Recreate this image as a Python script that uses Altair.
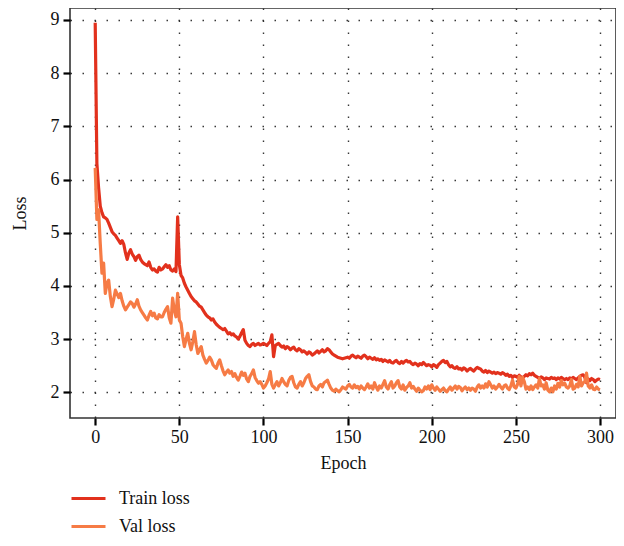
import altair as alt
import pandas as pd

train_loss = [
    8.95, 6.30, 5.85, 5.50, 5.38, 5.30, 5.28, 5.25, 5.18, 5.10,
    5.02, 4.98, 4.95, 4.90, 4.85, 4.80, 4.85, 4.78, 4.62, 4.50,
    4.62, 4.68, 4.60, 4.55, 4.48, 4.55, 4.58, 4.50, 4.45, 4.42,
    4.40, 4.38, 4.45, 4.35, 4.30, 4.32, 4.28, 4.26, 4.35, 4.30,
    4.32, 4.36, 4.40, 4.35, 4.38, 4.30, 4.28, 4.32, 4.27, 5.30,
    4.40, 4.20, 4.15, 4.05, 3.98, 3.92, 3.86, 3.80, 3.76, 3.72,
    3.70, 3.66, 3.62, 3.60, 3.55, 3.50, 3.45, 3.42, 3.40, 3.36,
    3.38, 3.32, 3.28, 3.25, 3.22, 3.20, 3.18, 3.20, 3.15, 3.10,
    3.12, 3.08, 3.10, 3.06, 3.04, 3.00, 3.05, 3.12, 3.18, 2.98,
    2.92, 2.88, 2.86, 2.90, 2.92, 2.88, 2.90, 2.92, 2.89, 2.90,
    2.92, 2.90, 2.88, 2.92, 2.95, 3.08, 2.67, 2.88, 2.90, 2.92,
    2.88, 2.85, 2.87, 2.82, 2.86, 2.84, 2.80, 2.83, 2.85, 2.80,
    2.78, 2.82, 2.80, 2.76, 2.78, 2.75, 2.72, 2.76, 2.74, 2.70,
    2.72, 2.75, 2.78, 2.74, 2.77, 2.80, 2.76, 2.78, 2.82, 2.80,
    2.76, 2.72, 2.70, 2.68, 2.66, 2.65, 2.64, 2.63, 2.64, 2.65,
    2.66, 2.64, 2.68, 2.70, 2.67, 2.65, 2.68, 2.66, 2.64, 2.68,
    2.70, 2.67, 2.63, 2.66, 2.64, 2.62, 2.65, 2.61, 2.63, 2.60,
    2.62, 2.58, 2.61, 2.59, 2.57, 2.60, 2.56, 2.55, 2.58, 2.60,
    2.56, 2.54, 2.58, 2.55, 2.58, 2.60, 2.57, 2.58, 2.54, 2.52,
    2.55, 2.53, 2.50, 2.54, 2.52, 2.56, 2.53, 2.50, 2.52, 2.51,
    2.48, 2.52, 2.50, 2.47, 2.52, 2.55, 2.58, 2.60, 2.56, 2.58,
    2.52, 2.48, 2.50, 2.46, 2.45, 2.48, 2.44, 2.45, 2.42, 2.46,
    2.44, 2.40, 2.43, 2.45, 2.42, 2.40, 2.44, 2.47, 2.45, 2.44,
    2.40, 2.38, 2.41, 2.37, 2.40, 2.38, 2.36, 2.38, 2.35, 2.37,
    2.36, 2.34, 2.37, 2.35, 2.32, 2.34, 2.30, 2.32, 2.28, 2.31,
    2.30, 2.28, 2.32, 2.29, 2.27, 2.30, 2.33, 2.31, 2.35, 2.33,
    2.36, 2.32, 2.30, 2.28, 2.26, 2.29, 2.27, 2.24, 2.27, 2.26,
    2.25, 2.28, 2.26, 2.27, 2.24, 2.27, 2.25, 2.28, 2.26, 2.24,
    2.26, 2.24, 2.27, 2.25, 2.28, 2.26, 2.24, 2.27, 2.30, 2.32,
    2.33, 2.28, 2.18, 2.25, 2.22, 2.26, 2.24, 2.20, 2.23, 2.25,
    2.24,
]

val_loss = [
    6.22, 5.25, 5.43, 4.80, 4.24, 4.43, 3.86, 4.05, 4.11, 3.80,
    3.61, 3.75, 3.92, 3.85, 3.78, 3.86, 3.72, 3.62, 3.55, 3.60,
    3.65, 3.70, 3.67, 3.60, 3.66, 3.74, 3.62, 3.55, 3.50, 3.45,
    3.40, 3.36, 3.45, 3.52, 3.44, 3.49, 3.40, 3.38, 3.46, 3.42,
    3.42, 3.50, 3.56, 3.61, 3.40, 3.30, 3.77, 3.55, 3.42, 3.86,
    3.36, 3.30, 3.05, 2.86, 3.00, 3.11, 2.92, 2.80, 2.95, 3.14,
    2.90, 2.73, 2.80, 2.86, 2.70, 2.62, 2.55, 2.60, 2.66, 2.61,
    2.52, 2.48, 2.45, 2.55, 2.61, 2.50, 2.40, 2.33, 2.38, 2.42,
    2.36, 2.39, 2.30, 2.35, 2.28, 2.23, 2.30, 2.38, 2.32, 2.36,
    2.25, 2.20, 2.30, 2.35, 2.42, 2.28, 2.22, 2.17, 2.20, 2.15,
    2.08, 2.12, 2.18, 2.25, 2.39, 2.15, 2.08, 2.14, 2.20, 2.12,
    2.18, 2.26, 2.20, 2.15, 2.12, 2.22, 2.28, 2.30, 2.18, 2.10,
    2.08, 2.15, 2.20, 2.12, 2.18, 2.26, 2.30, 2.33, 2.20, 2.12,
    2.10, 2.06, 2.05, 2.12, 2.15, 2.10, 2.18, 2.20, 2.23, 2.15,
    2.08, 2.04, 2.02, 2.06, 2.03, 2.01, 2.05, 2.10, 2.08, 2.06,
    2.12, 2.15, 2.10, 2.08, 2.14, 2.09, 2.11, 2.06, 2.12, 2.08,
    2.05, 2.10, 2.16, 2.08, 2.12, 2.06, 2.18, 2.10, 2.04, 2.12,
    2.08, 2.15, 2.22, 2.10, 2.06, 2.14, 2.20, 2.08, 2.12, 2.18,
    2.22, 2.10, 2.06, 2.14, 2.04, 2.09, 2.12, 2.18, 2.08, 2.11,
    2.06, 2.02, 2.08, 2.04, 2.01, 2.03, 2.10, 2.06, 2.12, 2.05,
    2.14, 2.08, 2.04, 2.10, 2.06, 2.02, 2.05, 2.08, 2.03, 2.01,
    2.06, 2.10, 2.04, 2.08, 2.12, 2.06, 2.11, 2.09, 2.03, 2.07,
    2.10, 2.05, 2.08, 2.04, 2.08, 2.06, 2.02, 2.10, 2.14, 2.08,
    2.12, 2.08, 2.16, 2.10, 2.20, 2.14, 2.08, 2.12, 2.06, 2.10,
    2.15, 2.10, 2.06, 2.12, 2.14, 2.08, 2.05, 2.12, 2.23, 2.10,
    2.08, 2.15, 2.30, 2.12, 2.28, 2.20, 2.06, 2.10, 2.05, 2.12,
    2.05, 2.10, 2.14, 2.08, 2.26, 2.12, 2.14, 2.06, 2.18, 2.04,
    2.01, 2.08, 2.01, 2.12, 2.06, 2.17, 2.10, 2.22, 2.14, 2.17,
    2.10, 2.08, 2.12, 2.24, 2.06, 2.08, 2.15, 2.10, 2.30, 2.12,
    2.18, 2.20, 2.36, 2.12, 2.08, 2.14, 2.06, 2.05, 2.10, 2.06,
    2.05,
]

series_names = ["Train loss", "Val loss"]
series_colors = ["#e2311d", "#f67b45"]
x_ticks = [0, 50, 100, 150, 200, 250, 300]
y_ticks = [2, 3, 4, 5, 6, 7, 8, 9]

rows = []
for name, vals in zip(series_names, [train_loss, val_loss]):
    for i, v in enumerate(vals):
        rows.append({"Epoch": i, "Loss": v, "Series": name, "order": series_names.index(name)})
df = pd.DataFrame(rows)

FONT = "Liberation Serif"

chart = alt.Chart(df).mark_line(strokeWidth=3.2, strokeJoin="round").encode(
    x=alt.X("Epoch:Q",
            scale=alt.Scale(domain=[-14.98, 309.5], nice=False, zero=False),
            axis=alt.Axis(values=x_ticks, title="Epoch", titlePadding=8, labelPadding=3)),
    y=alt.Y("Loss:Q",
            scale=alt.Scale(domain=[1.517, 9.2256], nice=False, zero=False),
            axis=alt.Axis(values=y_ticks, title="Loss", titlePadding=21)),
    color=alt.Color("Series:N",
                    scale=alt.Scale(domain=series_names, range=series_colors),
                    legend=alt.Legend(title=None, orient="none", legendX=0, legendY=472,
                                      symbolType="stroke", symbolSize=1156,
                                      symbolStrokeWidth=3, labelOffset=12,
                                      rowPadding=0, padding=0,
                                      labelFont=FONT, labelFontSize=18,
                                      labelColor="#111")),
    order="order:Q",
).properties(
    width=546, height=410,
    autosize=alt.AutoSizeParams(type="none"),
    padding={"left": 62, "top": 0, "right": 0, "bottom": 120},
).configure_view(
    stroke="#333", strokeWidth=1.6
).configure_axis(
    domain=False,
    grid=True, gridColor="#222", gridDash=[1.5, 10.5], gridWidth=1.4, gridOpacity=0.9,
    ticks=True, tickColor="#000", tickWidth=2.2, tickSize=7,
    labelFont=FONT, labelFontSize=18, labelColor="#111", labelPadding=4,
    titleFont=FONT, titleFontSize=18, titleFontWeight="normal", titleColor="#111",
)

chart.save("out.html", embed_options={"renderer": "svg", "actions": False})
